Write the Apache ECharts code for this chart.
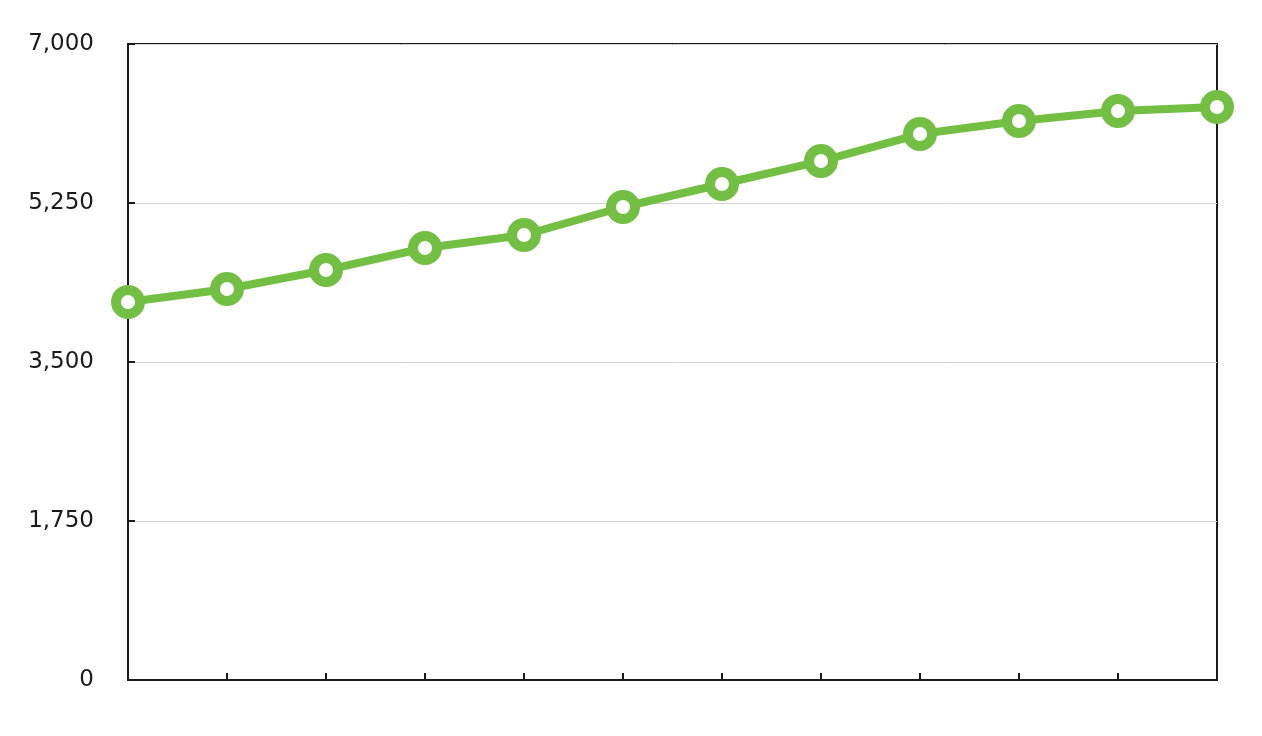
<!DOCTYPE html>
<html>
<head>
<meta charset="utf-8">
<script src="https://cdn.jsdelivr.net/npm/echarts@6/dist/echarts.min.js"></script>
<style>html,body{margin:0;padding:0;background:#fff;}#c{width:1262px;height:736px;}</style>
</head>
<body>
<div id="c"></div>
<script>
const categories = ['1','2','3','4','5','6','7','8','9','10','11','12'];
const values = [4160, 4303, 4512, 4755, 4898, 5206, 5459, 5712, 6009, 6152, 6262, 6306];
const yTicks = { min: 0, max: 7000, interval: 1750 };

const chart = echarts.init(document.getElementById('c'));
chart.setOption({
  animation: false,
  grid: { left: 128, right: 45, top: 44, bottom: 56, show: true, borderColor: '#1a1a1a', borderWidth: 2, backgroundColor: 'transparent' },
  xAxis: {
    type: 'category', data: categories, boundaryGap: false,
    axisLine: { lineStyle: { color: '#1a1a1a', width: 2 } },
    axisTick: { show: true, inside: true, length: 7, lineStyle: { color: '#1a1a1a', width: 2 } },
    axisLabel: { show: false },
    splitLine: { show: false }
  },
  yAxis: {
    type: 'value', min: yTicks.min, max: yTicks.max, interval: yTicks.interval,
    axisLine: { show: true, lineStyle: { color: '#1a1a1a', width: 2 } },
    axisTick: { show: true, inside: true, length: 7, lineStyle: { color: '#1a1a1a', width: 2 } },
    axisLabel: { color: '#1a1a1a', fontSize: 23, fontFamily: 'DejaVu Sans, sans-serif', fontWeight: 'normal', margin: 34,
      formatter: v => v.toLocaleString('en-US') },
    splitLine: { show: true, lineStyle: { color: '#d4d4d4', width: 1 } }
  },
  series: [{
    type: 'line', data: values,
    lineStyle: { color: '#72bf44', width: 8 },
    symbol: 'circle', symbolSize: 24,
    itemStyle: { color: '#ffffff', borderColor: '#72bf44', borderWidth: 10 },
    clip: false
  }]
});
</script>
</body>
</html>
